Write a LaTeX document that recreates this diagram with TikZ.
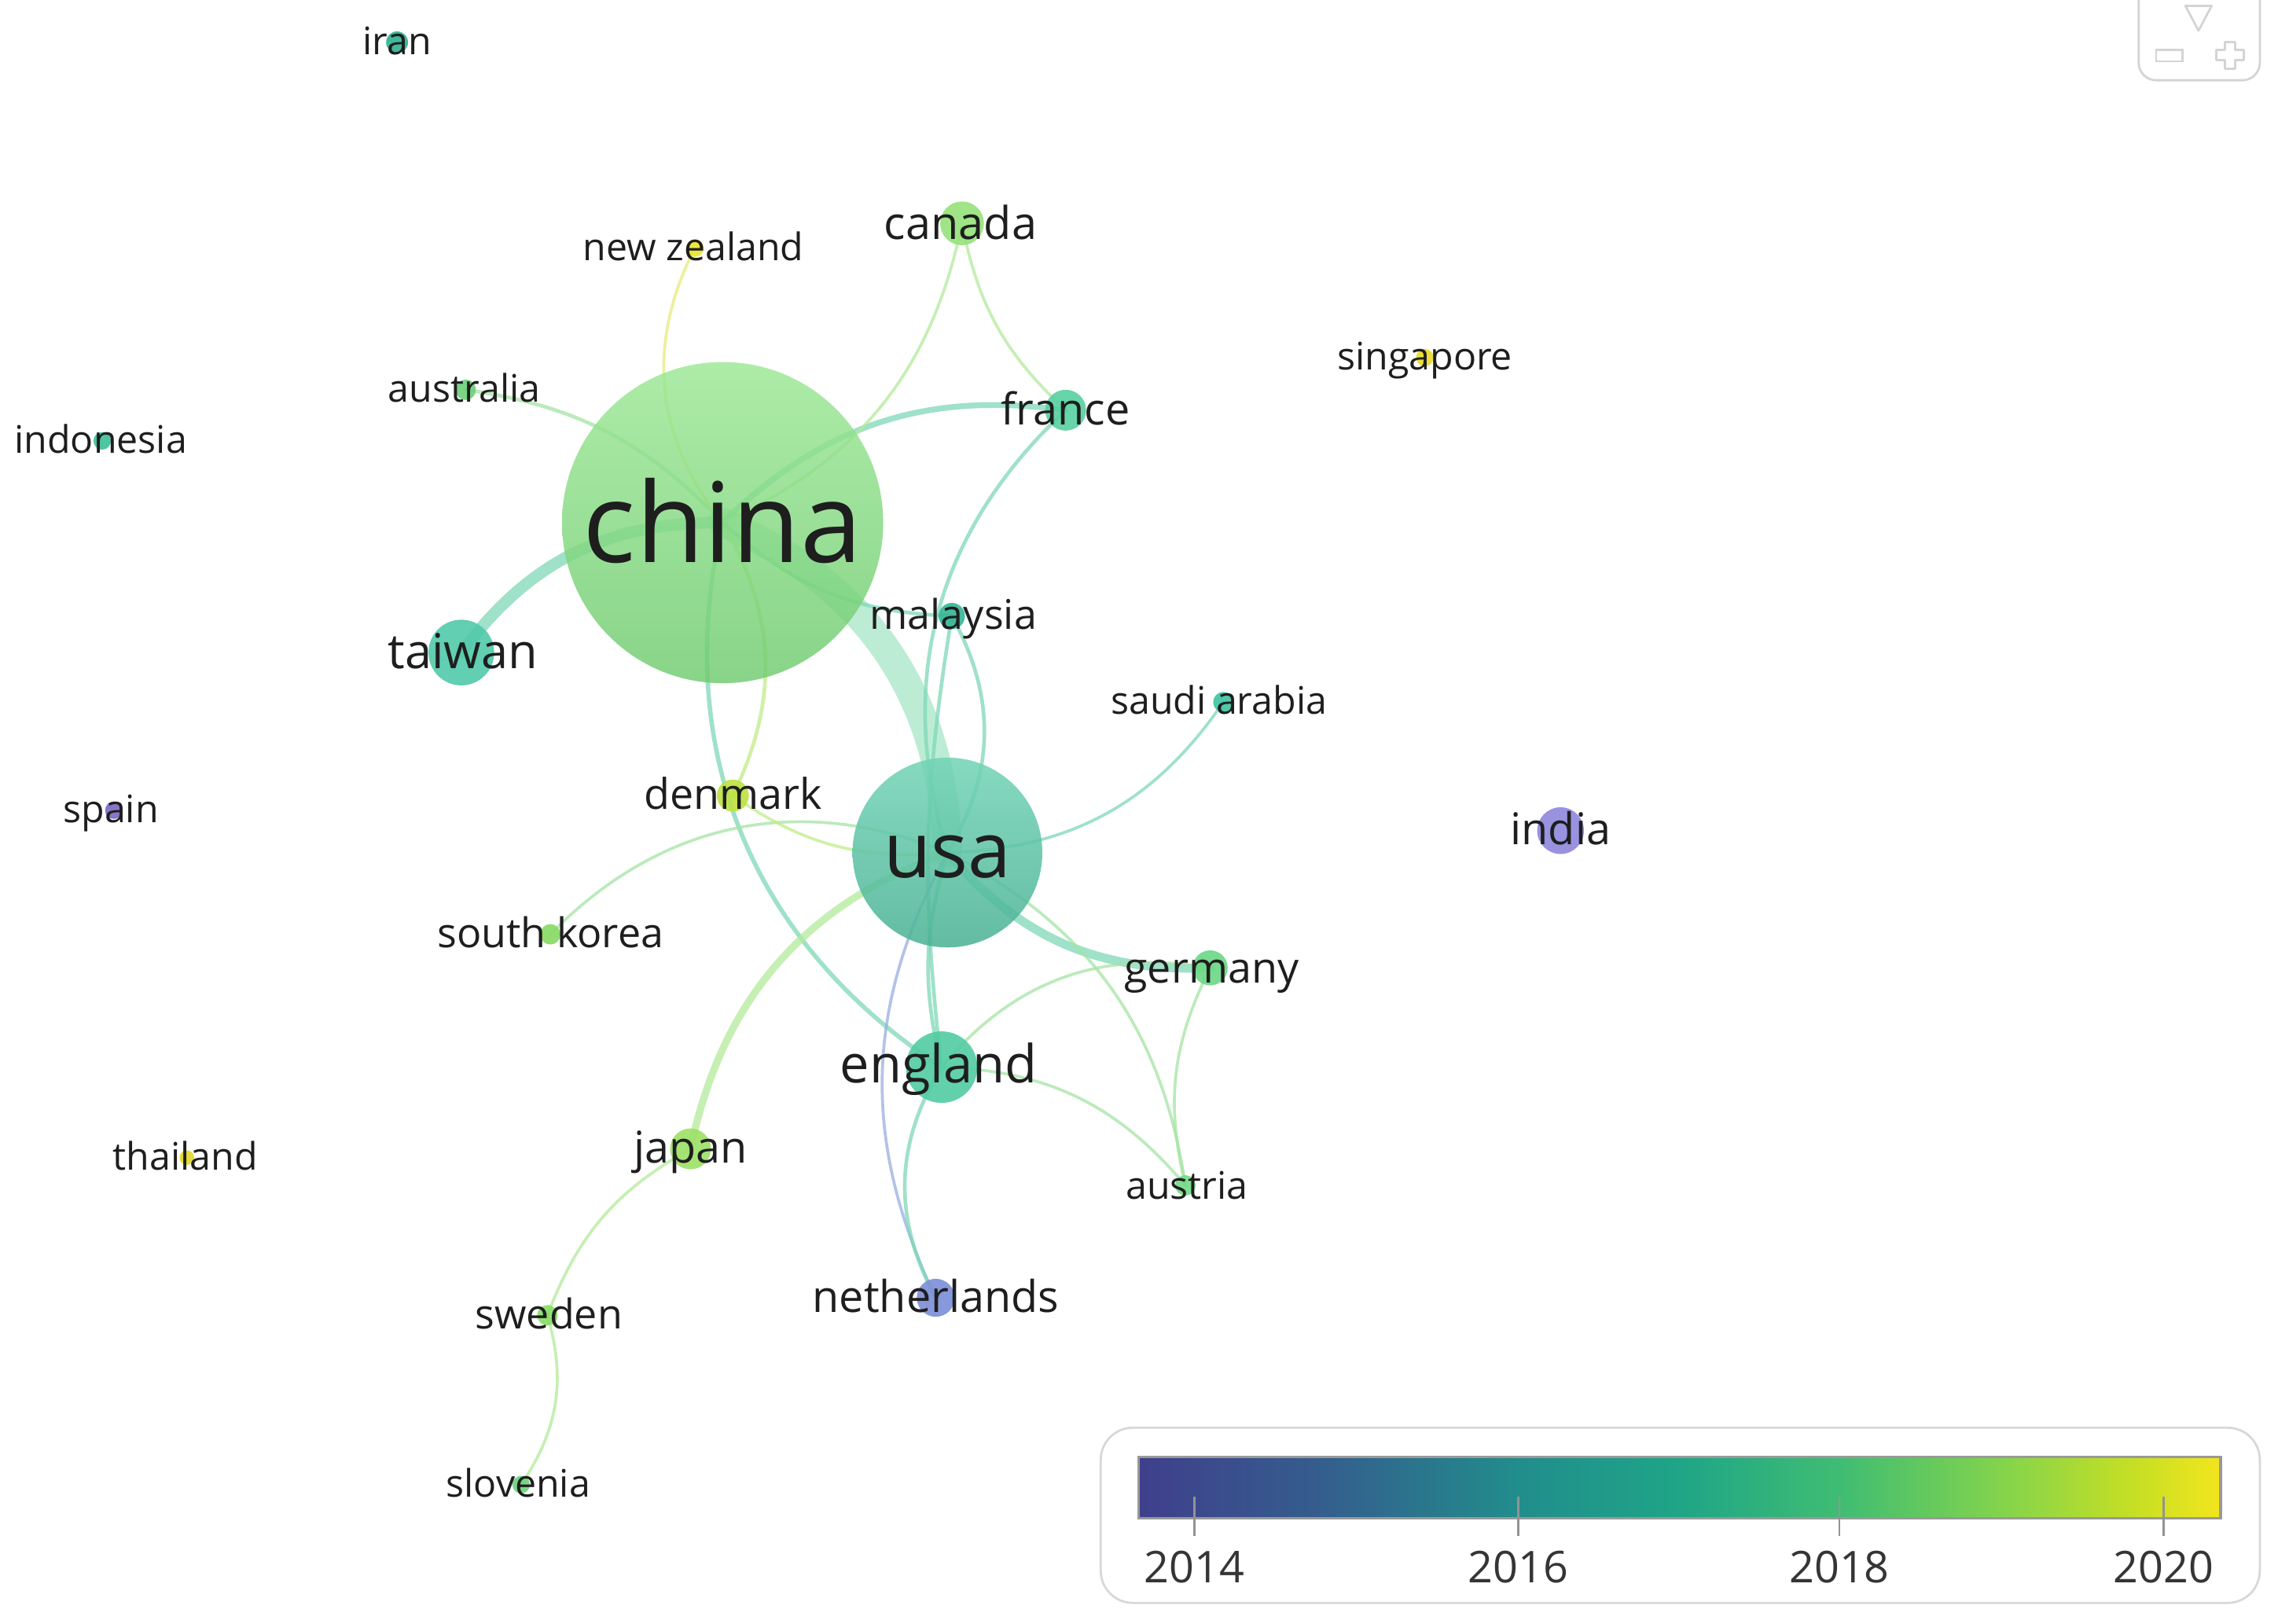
\documentclass[tikz,border=0pt]{standalone}
\usepackage{fontspec}
\setmainfont{Open Sans}
\pgfdeclarelayer{paper}
\pgfdeclarelayer{edges}
\pgfsetlayers{paper,edges,main}
\newcommand\fsz[1]{\fontsize{#1}{#1}\selectfont}
% node colours
\definecolor{cChinaT}{HTML}{9BE895}\definecolor{cChinaB}{HTML}{6FCB6F}
\definecolor{cUsaT}{HTML}{72D4B6}\definecolor{cUsaB}{HTML}{4AB294}
\definecolor{cTaiwan}{HTML}{52C9AA}
\definecolor{cEngland}{HTML}{52CCA2}
\definecolor{cIndia}{HTML}{8F87DC}
\definecolor{cCanada}{HTML}{96E27A}
\definecolor{cNether}{HTML}{7B8FD6}
\definecolor{cFrance}{HTML}{58D0A0}
\definecolor{cGermany}{HTML}{6AD884}
\definecolor{cJapan}{HTML}{9DE066}
\definecolor{cDenmark}{HTML}{BDE242}
\definecolor{cMalaysia}{HTML}{33B595}
\definecolor{cSaudi}{HTML}{3FC3A0}
\definecolor{cNZ}{HTML}{ECE52A}
\definecolor{cSing}{HTML}{E9DA2A}
\definecolor{cThai}{HTML}{E3D72A}
\definecolor{cSpain}{HTML}{7A66C0}
\definecolor{cIran}{HTML}{2EB08E}
\definecolor{cIndo}{HTML}{3BBF96}
\definecolor{cAustralia}{HTML}{6DD07A}
\definecolor{cKorea}{HTML}{86DA62}
\definecolor{cSweden}{HTML}{88DC66}
\definecolor{cSlovenia}{HTML}{6CD27A}
\definecolor{cAustria}{HTML}{74DA86}
% edge colours
\definecolor{eMint}{HTML}{A8E6C8}
\definecolor{eTeal}{HTML}{7FD8B8}
\definecolor{eGreen}{HTML}{A6E4A6}
\definecolor{eLight}{HTML}{B4EA9C}
\definecolor{eLime}{HTML}{C2EC8A}
\definecolor{eYellow}{HTML}{E6EC7A}
\definecolor{eBlue}{HTML}{9AAEE0}
\definecolor{labelc}{HTML}{1E1E1E}
\definecolor{legendline}{HTML}{D8D8D8}
\definecolor{widget}{HTML}{D4D4D4}
% viridis colour bar
\definecolor{vA}{HTML}{3F3F8C}\definecolor{vB}{HTML}{345E8D}
\definecolor{vC}{HTML}{218D8C}\definecolor{vD}{HTML}{1FA587}
\definecolor{vE}{HTML}{40BD72}\definecolor{vF}{HTML}{84D44B}
\definecolor{vG}{HTML}{C6DF24}\definecolor{vH}{HTML}{F2E51D}
\pgfdeclarehorizontalshading{viridisbar}{100bp}{color(0bp)=(vA); color(25bp)=(vA); color(33.5bp)=(vB); color(42.5bp)=(vC); color(50bp)=(vD); color(57.5bp)=(vE); color(65bp)=(vF); color(71bp)=(vG); color(75bp)=(vH); color(100bp)=(vH)}
\tikzset{
  dot/.style={circle, inner sep=0pt, minimum size=#1, fill opacity=0.9},
  lbl/.style={inner sep=0pt, anchor=base, font=\fsz{#1}, yshift={-0.36*#1}, text=labelc},
  small/.style={lbl=26},
  link/.style={line width=#1, line cap=round, draw opacity=0.75},
  yeartick/.style={draw=gray!85, line width=1.5pt},
  yearlbl/.style={inner sep=0pt, anchor=base, text=labelc!90, font=\fsz{30}},
}
\begin{document}
\begin{tikzpicture}[x=1pt,y=1pt]
\useasboundingbox (0,0) rectangle (1568,1112);
\begin{pgfonlayer}{paper}
\fill[white] (0,0) rectangle (1568,1112);
\end{pgfonlayer}

% ---------- nodes (circles) ----------
\node[dot=220pt, top color=cChinaT, bottom color=cChinaB, fill opacity=0.82] (china) at (495,754) {};
\node[dot=130pt, top color=cUsaT, bottom color=cUsaB, fill opacity=0.86] (usa) at (649,528) {};
\node[dot=45pt, fill=cTaiwan] (taiwan) at (316,665) {};
\node[dot=49pt, fill=cEngland] (england) at (645,381) {};
\node[dot=32pt, fill=cIndia] (india) at (1069,543) {};
\node[dot=30pt, fill=cCanada] (canada) at (659,959) {};
\node[dot=26pt, fill=cNether] (netherlands) at (641,223) {};
\node[dot=28pt, fill=cFrance] (france) at (730,831) {};
\node[dot=24pt, fill=cGermany] (germany) at (829,449) {};
\node[dot=28pt, fill=cJapan] (japan) at (473,325) {};
\node[dot=22pt, fill=cDenmark] (denmark) at (502,567) {};
\node[dot=18pt, fill=cMalaysia] (malaysia) at (652,690) {};
\node[dot=14pt, fill=cSaudi] (saudi) at (838,631) {};
\node[dot=12pt, fill=cNZ] (newzealand) at (476,942) {};
\node[dot=12pt, fill=cSing] (singapore) at (976,867) {};
\node[dot=10pt, fill=cThai] (thailand) at (128,319) {};
\node[dot=12pt, fill=cSpain] (spain) at (78,557) {};
\node[dot=15pt, fill=cIran] (iran) at (272,1083) {};
\node[dot=12pt, fill=cIndo] (indonesia) at (70,810) {};
\node[dot=14pt, fill=cAustralia] (australia) at (319,845) {};
\node[dot=14pt, fill=cKorea] (southkorea) at (377,472) {};
\node[dot=14pt, fill=cSweden] (sweden) at (375,211) {};
\node[dot=12pt, fill=cSlovenia] (slovenia) at (357,95) {};
\node[dot=14pt, fill=cAustria] (austria) at (812,300) {};

% ---------- links ----------
\begin{pgfonlayer}{edges}
\draw[link=20pt, eMint] (china.center) to[bend left=33] (usa.center);
\draw[link=8pt, eTeal] (china.center) to[bend right=27] (taiwan.center);
\draw[link=4pt, eTeal] (china.center) to[bend left=26] (france.center);
\draw[link=2pt, eLight] (china.center) to[bend right=27] (canada.center);
\draw[link=2pt, eLight] (canada.center) to[bend right=18] (france.center);
\draw[link=2pt, eYellow] (china.center) to[bend left=33] (newzealand.center);
\draw[link=2.5pt, eGreen] (australia.center) to[bend left=19] (china.center);
\draw[link=2.5pt, eLime] (china.center) to[bend left=28] (denmark.center);
\draw[link=3pt, eTeal] (china.center) to[bend right=35] (england.center);
\draw[link=2.5pt, eTeal] (china.center) to[bend right=20] (malaysia.center);
\draw[link=2.5pt, eTeal] (malaysia.center) to[bend left=30] (usa.center);
\draw[link=2.5pt, eTeal] (france.center) to[bend right=32] (usa.center);
\draw[link=2pt, eTeal] (usa.center) to[bend right=27] (saudi.center);
\draw[link=2pt, eGreen] (usa.center) to[bend right=34] (southkorea.center);
\draw[link=2pt, eLime] (denmark.center) to[bend right=20] (usa.center);
\draw[link=5pt, eLight] (usa.center) to[bend right=29] (japan.center);
\draw[link=6pt, eTeal] (usa.center) to[bend right=26] (germany.center);
\draw[link=2.5pt, eTeal] (usa.center) to[bend right=15] (england.center);
\draw[link=2.5pt, eTeal] (malaysia.center) to[bend right=8] (england.center);
\draw[link=2pt, eBlue] (usa.center) to[bend right=27] (netherlands.center);
\draw[link=2.5pt, eTeal] (england.center) to[bend right=30] (netherlands.center);
\draw[link=2pt, eGreen] (england.center) to[bend left=30] (germany.center);
\draw[link=2pt, eGreen] (england.center) to[bend left=24] (austria.center);
\draw[link=2pt, eGreen] (usa.center) to[bend left=27] (austria.center);
\draw[link=2pt, eGreen] (germany.center) to[bend right=20] (austria.center);
\draw[link=2pt, eLight] (japan.center) to[bend right=20] (sweden.center);
\draw[link=2pt, eLight] (sweden.center) to[bend left=25] (slovenia.center);
\end{pgfonlayer}

% ---------- labels ----------
\node[lbl=76] (chinaL) at (495,754) {china};
\node[lbl=53] (usaL) at (649,530) {usa};
\node[lbl=33] (taiwanL) at (317,666) {taiwan};
\node[lbl=36] (englandL) at (643,383) {england};
\node[lbl=30] (indiaL) at (1069,544) {india};
\node[lbl=31] (canadaL) at (658,959) {canada};
\node[lbl=30] (netherlandsL) at (641,224) {netherlands};
\node[lbl=30] (franceL) at (730,832) {france};
\node[lbl=29] (germanyL) at (830,449) {germany};
\node[lbl=30] (japanL) at (473,326) {japan};
\node[lbl=29] (denmarkL) at (502,568) {denmark};
\node[lbl=28] (malaysiaL) at (653,691) {malaysia};
\node[small] (saudiL) at (835,632) {saudi arabia};
\node[small] (newzealandL) at (475,943) {new zealand};
\node[small] (singaporeL) at (976,868) {singapore};
\node[small] (thailandL) at (127,320) {thailand};
\node[small] (spainL) at (76,558) {spain};
\node[small] (iranL) at (272,1084) {iran};
\node[small] (indonesiaL) at (69,811) {indonesia};
\node[small] (australiaL) at (318,846) {australia};
\node[lbl=28] (southkoreaL) at (377,473) {south korea};
\node[lbl=28] (swedenL) at (376,212) {sweden};
\node[small] (sloveniaL) at (355,96) {slovenia};
\node[small] (austriaL) at (813,300) {austria};

% ---------- legend ----------
\draw[legendline, line width=1.5pt, fill=white, rounded corners=22pt] (754,134) rectangle (1548,14);
\shade[shading=viridisbar] (780,114) rectangle (1521,72);
\draw[gray!80, line width=2pt] (780,114) rectangle (1521,72);
\foreach \xx/\yr in {818/2014, 1040/2016, 1260/2018, 1482/2020}{
  \coordinate (t\yr a) at (\xx,87);
  \coordinate (t\yr b) at (\xx,60);
  \draw[yeartick] (t\yr a) -- (t\yr b);
  \node[yearlbl] (y\yr) at (\xx,28) {\yr};
}

% ---------- zoom widget (top right) ----------
\draw[widget, line width=1.5pt, rounded corners=12pt] (1465,1120) -- (1465,1057) -- (1548,1057) -- (1548,1120);
\draw[widget, line width=1.5pt, line join=round] (1497,1108) -- (1515,1108) -- (1506,1091) -- cycle;
\draw[widget, line width=1.5pt] (1477,1078) rectangle (1495,1070);
\draw[widget, line width=1.5pt, line join=round] (1524,1083) -- (1531,1083) -- (1531,1078) -- (1537,1078) -- (1537,1071) -- (1531,1071) -- (1531,1065) -- (1524,1065) -- (1524,1071) -- (1518,1071) -- (1518,1078) -- (1524,1078) -- cycle;
\end{tikzpicture}
\end{document}
